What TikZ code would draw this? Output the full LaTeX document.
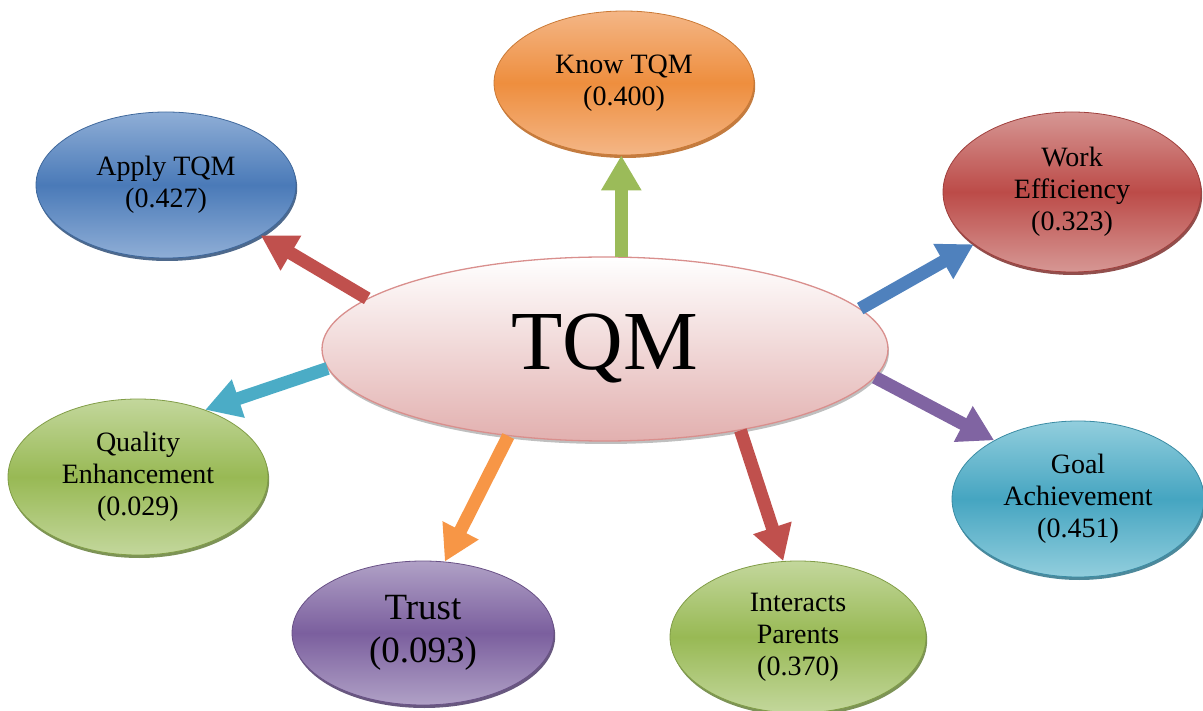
\documentclass[tikz,border=0pt]{standalone}
\usepackage{fontspec}
\setmainfont{Liberation Serif}
\usetikzlibrary{arrows.meta,shapes.geometric,shadows}
\definecolor{bluL}{HTML}{8FAED6}\definecolor{bluM}{HTML}{4A7AB8}\definecolor{bluB}{HTML}{2F4F78}
\definecolor{oraL}{HTML}{F4B686}\definecolor{oraM}{HTML}{EE8E3E}\definecolor{oraB}{HTML}{B9651F}
\definecolor{redL}{HTML}{D69794}\definecolor{redM}{HTML}{BC4B48}\definecolor{redB}{HTML}{7E302E}
\definecolor{grnL}{HTML}{C3D79C}\definecolor{grnM}{HTML}{98B954}\definecolor{grnB}{HTML}{66803A}
\definecolor{aquL}{HTML}{92CEDD}\definecolor{aquM}{HTML}{45A5C1}\definecolor{aquB}{HTML}{2E7489}
\definecolor{purL}{HTML}{B0A1C6}\definecolor{purM}{HTML}{7B5F9E}\definecolor{purB}{HTML}{4E3B68}
\definecolor{pnkT}{HTML}{FFFFFF}\definecolor{pnkB}{HTML}{E2B0AF}\definecolor{pnkD}{HTML}{D98F8D}
\definecolor{aGreen}{HTML}{9BBB59}\definecolor{aRed}{HTML}{C0504D}\definecolor{aBlue}{HTML}{4F81BD}
\definecolor{aAqua}{HTML}{4BACC6}\definecolor{aPurple}{HTML}{8064A2}\definecolor{aOrange}{HTML}{F79646}
\tikzset{
  bubble/.style n args={4}{ellipse, inner sep=0pt, align=center,
    font=\fontsize{28}{32}\selectfont, draw=#4, line width=0.8pt,
    top color=#1, bottom color=#1, middle color=#2,
    drop shadow={shadow xshift=1.2pt, shadow yshift=-3pt, opacity=.85, fill=#3}},
  arr/.style={line width=13pt, -{Triangle[width=38pt,length=35pt]}}
}
\newcommand{\twoline}[2]{\raisebox{7pt}{\begin{tabular}{@{}c@{}}#1\\#2\end{tabular}}}
\begin{document}
\begin{tikzpicture}[x=1pt,y=-1pt]
\useasboundingbox (0,0) rectangle (1203,711);
\node[ellipse, inner sep=0pt, minimum width=566pt, minimum height=184pt,
  top color=pnkT, bottom color=pnkB, draw=pnkD, line width=1.3pt,
  drop shadow={shadow xshift=1pt, shadow yshift=-3pt, opacity=.5, fill=gray},
  font=\fontsize{84}{90}\selectfont] (tqm) at (605,349) {TQM};
\node[bubble={oraL}{oraM}{oraB}{oraM!85!black}, minimum width=260pt, minimum height=144pt]
  (know) at (624,83) {\twoline{Know TQM}{(0.400)}};
\node[bubble={bluL}{bluM}{bluB}{bluM!85!black}, minimum width=260pt, minimum height=146pt]
  (apply) at (166,185) {\twoline{Apply TQM}{(0.427)}};
\node[bubble={redL}{redM}{redB}{redM!85!black}, minimum width=258pt, minimum height=160pt]
  (work) at (1072,192) {Work\\Efficiency\\(0.323)};
\node[bubble={grnL}{grnM}{grnB}{grnM!85!black}, minimum width=260pt, minimum height=156pt]
  (qual) at (138,477) {Quality\\Enhancement\\(0.029)};
\node[bubble={aquL}{aquM}{aquB}{aquM!85!black}, minimum width=252pt, minimum height=156pt]
  (goal) at (1078,499) {Goal\\Achievement\\(0.451)};
\node[bubble={purL}{purM}{purB}{purM!85!black}, minimum width=262pt, minimum height=144pt,
  font=\fontsize{37}{43}\selectfont]
  (trust) at (423,633) {Trust\\(0.093)};
\node[bubble={grnL}{grnM}{grnB}{grnM!85!black}, minimum width=256pt, minimum height=152pt]
  (inter) at (798,637) {Interacts\\Parents\\(0.370)};
\draw[arr, aGreen] (tqm.80) -- (tqm.80 |- know.south);
\draw[arr, aRed] (tqm.168) -- (apply.-28);
\draw[arr, aBlue] (tqm.9) -- (work.208);
\draw[arr, aAqua] (tqm.184) -- (qual.45);
\draw[arr, aPurple] (tqm.-6) -- (goal.145);
\draw[arr, aOrange] (tqm.222) -- (trust.73);
\draw[arr, aRed] (tqm.-31) -- (inter.101);
\end{tikzpicture}
\end{document}
